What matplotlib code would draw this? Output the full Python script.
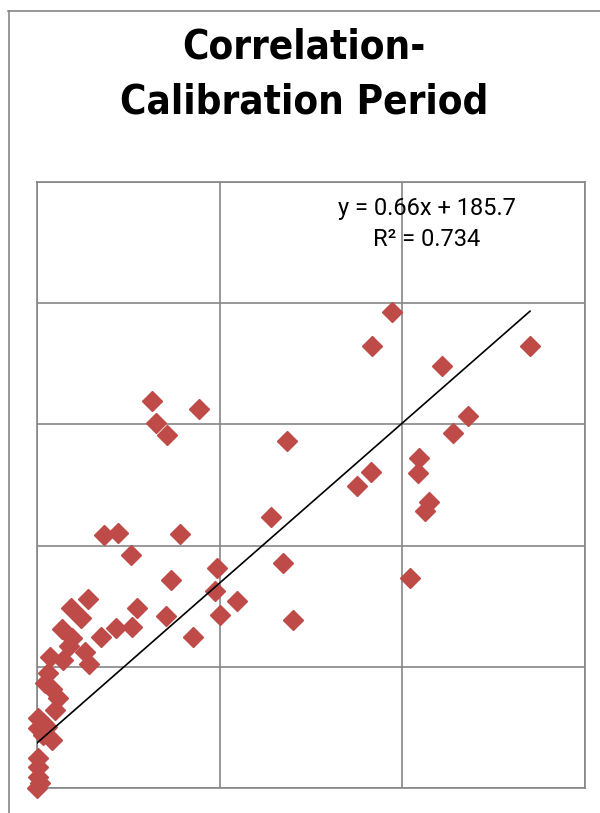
import numpy as np
import matplotlib
matplotlib.use("Agg")
import matplotlib.pyplot as plt
from matplotlib.lines import Line2D

# values (x: 0-3000, y: 0-2500)
x_vals = [1942, 1835, 2699, 2219, 2361, 2276, 2091, 2084, 1827, 1750,
          2148, 2124, 2042,
          631, 887, 653, 710, 1367, 1281, 367, 445, 784, 515, 1347,
          984, 735, 974, 1096, 281, 546, 1002, 706, 1403, 241, 186,
          518, 432, 856, 352, 135, 190, 175, 263, 71, 144, 286,
          62, 44, 80, 117, 98, 7, 34, 53, 7, 34, 80,
          7, 7, 7, 16, 0]
y_vals = [1965, 1824, 1824, 1742, 1534, 1463, 1360, 1298, 1305, 1246,
          1178, 1143, 865,
          1598, 1562, 1507, 1456, 1431, 1117, 1045, 1053, 1046, 961, 929,
          906, 858, 813, 773, 778, 744, 714, 711, 693, 700, 741,
          665, 660, 624, 623, 655, 619, 584, 562, 542, 526, 512,
          473, 432, 408, 370, 322, 287, 267, 253, 246, 219, 198,
          122, 88, 47, 19, 0]

slope = 0.66
intercept = 185.7
r2 = 0.734

x_vals = np.array(x_vals)
y_vals = np.array(y_vals)

grid_col = '#868686'

fig = plt.figure(figsize=(6, 8.13), dpi=100)
ax = fig.add_axes([37/600, 1 - 788/813, 548/600, 606/813])

ax.set_xlim(0, 3000)
ax.set_ylim(0, 2500)
ax.set_xticks([0, 1000, 2000, 3000])
ax.set_yticks([0, 500, 1000, 1500, 2000, 2500])
ax.tick_params(length=0, labelleft=False, labelbottom=False)
ax.grid(True, color=grid_col, lw=1.2)
ax.set_axisbelow(True)
for s in ax.spines.values():
    s.set_color(grid_col)
    s.set_linewidth(1.2)

ax.plot(x_vals, y_vals, 'D', ms=10, color='#BE4B48', mec='#BE4B48',
        clip_on=False, zorder=3)

tx = np.array([x_vals.min(), x_vals.max()])
ax.plot(tx, slope * tx + intercept, color='black', lw=1.2, zorder=4)

fig.text(427/600, 1 - 224/813,
         "y = %.2fx + %.1f\nR² = %.3f" % (slope, intercept, r2),
         ha='center', va='center', fontsize=17, family='Roboto',
         fontstretch='condensed', linespacing=1.45)

fig.text(304/600, 1 - 75/813, "Correlation-\nCalibration Period",
         ha='center', va='center', fontsize=29, fontweight='bold',
         family='DejaVu Sans', fontstretch='condensed', linespacing=1.5)

# chart area border (cut off at right and bottom)
fig.add_artist(Line2D([8.5/600, 8.5/600], [0, 1 - 11/813],
                      transform=fig.transFigure, color=grid_col, lw=1.2))
fig.add_artist(Line2D([8/600, 1], [1 - 11.5/813, 1 - 11.5/813],
                      transform=fig.transFigure, color=grid_col, lw=1.2))

fig.savefig('out.png', dpi=100)
